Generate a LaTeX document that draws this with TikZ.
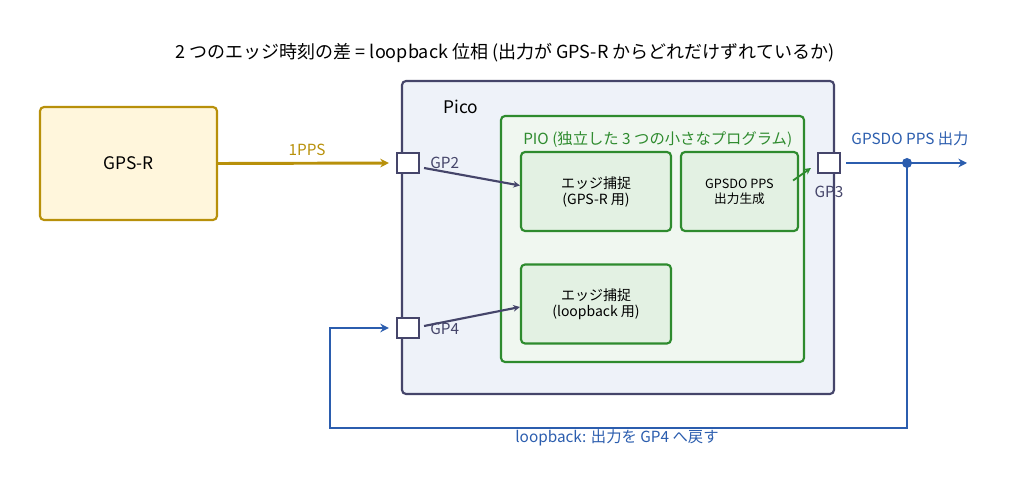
\documentclass[tikz,border=0pt]{standalone}
\usepackage{fontspec}
\setmainfont{Noto Sans CJK JP}
\usetikzlibrary{positioning, arrows.meta}
\definecolor{gold}{HTML}{B8900A}
\definecolor{goldlight}{HTML}{FFF6DC}
\definecolor{picodraw}{HTML}{45456A}
\definecolor{picofill}{HTML}{EEF2F9}
\definecolor{piodraw}{HTML}{2E8B2E}
\definecolor{piofill}{HTML}{F0F7F0}
\definecolor{subfill}{HTML}{E3F1E3}
\definecolor{loopblue}{HTML}{2B5DAE}
\newlength\px
\setlength\px{0.75pt}

\begin{document}
\begin{tikzpicture}[
    x=0.75pt, y=-0.75pt,
    every node/.style={align=center, inner sep=0pt},
    box/.style={draw, rounded corners=3pt, line width=1.6pt},
    src/.style={box, fill=goldlight, draw=gold, minimum width=177\px, minimum height=113\px, font=\fontsize{13}{15}\selectfont},
    chip/.style={box, fill=picofill, draw=picodraw, minimum width=432\px, minimum height=313\px},
    pio/.style={box, fill=piofill, draw=piodraw, minimum width=303\px, minimum height=246\px},
    sub/.style={box, fill=subfill, draw=piodraw, minimum height=79\px, font=\fontsize{10.5}{12}\selectfont},
    pin/.style={draw=picodraw, fill=white, line width=1.6pt, minimum width=22\px, minimum height=20\px},
    pinlbl/.style={text=picodraw, font=\fontsize{11.5}{13}\selectfont},
    arr/.style={-{Stealth[length=5pt, width=5pt]}, line width=1.6pt, draw=picodraw},
    goldarr/.style={-{Stealth[length=6.5pt, width=6.5pt]}, line width=2.2pt, draw=gold},
    bluearr/.style={-{Stealth[length=6.5pt, width=6.5pt]}, line width=2.2pt, draw=loopblue},
    greenarr/.style={-{Stealth[length=5pt, width=5pt]}, line width=1.4pt, draw=piodraw}
]
\useasboundingbox (0,0) rectangle (1011,484);

% --- Title ---
\node[font=\fontsize{13.5}{15}\selectfont] (title) at (505,53) {2 つのエッジ時刻の差 = loopback 位相 (出力が GPS-R からどれだけずれているか)};

% --- GPS-R ---
\node[src] (gps) at (128.5,163.5) {GPS-R};

% --- Pico and PIO ---
\node[chip] (pico) at (618,237.5) {};
\node[anchor=west, font=\fontsize{13}{15}\selectfont] (picolbl) at (443,107) {Pico};
\node[pio] (pio) at (652.5,239) {};
\node[anchor=west, text=piodraw, font=\fontsize{11.5}{13}\selectfont] (piolbl) at (523,140) {PIO (独立した 3 つの小さなプログラム)};
\node[sub, minimum width=150\px] (cap1) at (596,191.5) {エッジ捕捉\\(GPS-R 用)};
\node[sub, minimum width=117\px, font=\fontsize{9.5}{11}\selectfont] (gen) at (739.5,191.5) {GPSDO PPS\\出力生成};
\node[sub, minimum width=150\px] (cap2) at (596,304) {エッジ捕捉\\(loopback 用)};

% --- Pins ---
\node[pin] (gp2) at (408,163) {};
\node[pin] (gp4) at (408,328) {};
\node[pin] (gp3) at (829,163) {};
\node[pinlbl, anchor=west] (gp2lbl) at (430,163) {GP2};
\node[pinlbl, anchor=west] (gp4lbl) at (430,329) {GP4};
\node[pinlbl] (gp3lbl) at (829,192) {GP3};

% --- Edges ---
\draw[goldarr, shorten >=5.25pt] (gps.east) -- node[above=4.5pt, text=gold, font=\fontsize{11.5}{13}\selectfont]{1PPS} (gp2.west);
\draw[arr] ([xshift=3pt, yshift=-3.75pt]gp2.east) -- ([yshift=4.5pt]cap1.west);
\draw[arr] ([xshift=3pt, yshift=1.5pt]gp4.east) -- ([yshift=-2.25pt]cap2.west);
\draw[greenarr] ([xshift=-4.5pt, yshift=8.25pt]gen.east) -- ([xshift=-4.5pt, yshift=-3.75pt]gp3.west);

% --- Output and loopback ---
\coordinate (tap) at (907,163);
\coordinate (outend) at (967,163);
\coordinate (lbcorner) at (330,428);
\draw[bluearr, shorten <=3.75pt] (gp3.east) -- (outend);
\node[text=loopblue, font=\fontsize{11.5}{13}\selectfont] (outlbl) at (910,139) {GPSDO PPS 出力};
\draw[bluearr, shorten >=5.25pt] (tap) |- (lbcorner) |- (gp4.west);
\fill[loopblue] (tap) circle (3.75pt);
\node[text=loopblue, font=\fontsize{11.5}{13}\selectfont] (lblbl) at (617,438) {loopback: 出力を GP4 へ戻す};

\end{tikzpicture}
\end{document}
